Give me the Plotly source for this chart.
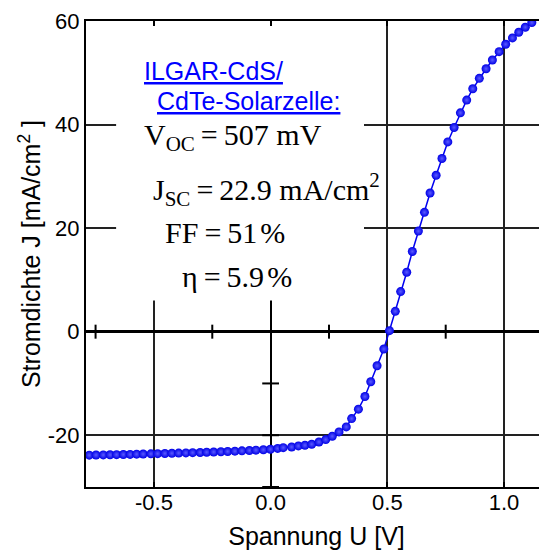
import plotly.graph_objects as go

# Measured J-V data (voltage in V, current density in mA/cm^2)
voltage = [
    -0.777, -0.748, -0.717, -0.688, -0.660, -0.631, -0.602, -0.574, -0.546, -0.513,
    -0.484, -0.453, -0.423, -0.394, -0.363, -0.334, -0.302, -0.274, -0.244, -0.213,
    -0.184, -0.153, -0.123, -0.091, -0.063, -0.031, -0.001, 0.030,
    0.054, 0.090, 0.119, 0.147, 0.176, 0.207, 0.236, 0.264, 0.293, 0.324,
    0.347, 0.376, 0.404, 0.429, 0.456, 0.485, 0.509, 0.534,
    0.557, 0.583, 0.607, 0.633, 0.659, 0.683, 0.709, 0.734, 0.759, 0.786,
    0.813, 0.840, 0.866, 0.894, 0.923, 0.950, 0.979, 1.007, 1.036, 1.063,
    1.091, 1.119,
]
current = [
    -23.85, -23.82, -23.80, -23.78, -23.75, -23.72, -23.70, -23.66, -23.63, -23.60,
    -23.56, -23.52, -23.49, -23.45, -23.41, -23.37, -23.33, -23.28, -23.24, -23.19,
    -23.14, -23.08, -23.02, -22.95, -22.88, -22.80, -22.70, -22.55,
    -22.40, -22.27, -22.07, -21.94, -21.74, -21.30, -20.85, -20.19, -19.36, -18.39,
    -16.79, -14.97, -12.53, -9.68, -6.58, -3.35, 0.19, 3.93,
    7.74, 11.48, 15.49, 19.42, 23.04, 26.78, 30.20, 33.44, 36.65, 39.44,
    42.26, 44.72, 46.91, 48.93, 50.78, 52.47, 54.08, 55.51, 56.73, 57.83,
    58.80, 59.69,
]

x_tickvals = [-0.5, 0.0, 0.5, 1.0]
x_ticktext = ["-0.5", "0.0", "0.5", "1.0"]
y_tickvals = [-20, 0, 20, 40, 60]
y_ticktext = ["-20", "0", "20", "40", "60"]

# minor cross ticks on the zero lines
zero_x_minor = [-0.75, -0.25, 0.25, 0.75]
zero_y_minor = [-10, -20, -30]

title_lines = ["ILGAR-CdS/", "CdTe-Solarzelle:"]
T = "\u2009"
GAP = '<span style="font-size:12px"> </span>'
param_lines = [
    f"V<sub>OC</sub>{T}={T}507 mV",
    f"J<sub>SC</sub>{T}={T}22.9 mA/cm<sup>2</sup>",
    f"FF{T}={T}51{GAP}%",
    f"η{T}={T}5.9{GAP}%",
]

SANS = "Liberation Sans, Arial, sans-serif"
SERIF = "Liberation Serif, Times New Roman, serif"

# the page body adds an 8px offset; compensate so the plot lands where the reference has it
OFF = 8
W, H_ = 547 - OFF, 554 - OFF

fig = go.Figure()

fig.add_trace(go.Scatter(
    x=voltage, y=current, mode="lines+markers",
    line=dict(color="#0000f0", width=1.5),
    marker=dict(size=9, color="#0000e6",
                gradient=dict(type="radial", color="#5a5aff")),
    showlegend=False, cliponaxis=True,
))

fig.add_trace(go.Scatter(
    x=zero_x_minor, y=[0] * len(zero_x_minor), mode="markers",
    marker=dict(symbol="line-ns", size=10, line=dict(color="black", width=2)),
    showlegend=False, hoverinfo="skip",
))
fig.add_trace(go.Scatter(
    x=[0] * len(zero_y_minor), y=zero_y_minor, mode="markers",
    marker=dict(symbol="line-ew", size=12, line=dict(color="black", width=2)),
    showlegend=False, hoverinfo="skip", cliponaxis=False,
))

# white text panel hiding grid lines behind the labels
fig.add_shape(type="rect", xref="x", yref="y", x0=-0.662, x1=0.40, y0=6.0, y1=60,
              fillcolor="white", line=dict(width=0), layer="between")

# annotations (reference pixel positions converted to data coordinates)
def px2x(px):
    return (px - 270.6) / 233.4

def py2y(py):
    return (331 - py) / 5.165

title_pos = [(142, 71), (155, 101)]
for txt, (px, py) in zip(title_lines, title_pos):
    fig.add_annotation(
        x=px2x(px), y=py2y(py), xref="x", yref="y", xanchor="left", yanchor="middle",
        text=f'<span style="text-decoration:underline">{txt}</span>',
        showarrow=False, font=dict(family=SANS, size=25, color="#0000ff"),
    )

param_pos = [(142, 137), (151, 189), (163, 232), (180, 276)]
for txt, (px, py) in zip(param_lines, param_pos):
    fig.add_annotation(
        x=px2x(px), y=py2y(py), xref="x", yref="y", xanchor="left", yanchor="middle",
        text=txt, showarrow=False, font=dict(family=SERIF, size=30, color="black"),
    )

fig.update_layout(
    width=W, height=H_,
    margin=dict(l=86 - OFF, r=0, t=21 - OFF, b=H_ - (487 - OFF)),
    paper_bgcolor="white", plot_bgcolor="white",
    font=dict(family=SANS, color="black"),
    xaxis=dict(
        range=[-0.791, 1.184], tickvals=x_tickvals, ticktext=x_ticktext,
        tickfont=dict(size=22), showgrid=True, gridcolor="#222", gridwidth=1.5,
        zeroline=True, zerolinecolor="black", zerolinewidth=2.2,
        showline=True, linecolor="black", linewidth=2, mirror="allticks",
        ticks="inside", ticklen=5, tickwidth=2, tickcolor="black",
        automargin=False, ticklabelstandoff=-5,
        title=dict(text="Spannung U [V]", font=dict(size=25), standoff=13),
    ),
    yaxis=dict(
        range=[-30, 60], tickvals=y_tickvals, ticktext=y_ticktext,
        tickfont=dict(size=22), showgrid=True, gridcolor="#222", gridwidth=1.5,
        zeroline=True, zerolinecolor="black", zerolinewidth=2.6,
        showline=True, linecolor="black", linewidth=2, mirror=False,
        ticks="", ticklabelstandoff=0, automargin=False,
        title=dict(text="Stromdichte J [mA/cm<sup>2</sup> ]", font=dict(size=25), standoff=0),
    ),
)

fig.write_html("out.html")
